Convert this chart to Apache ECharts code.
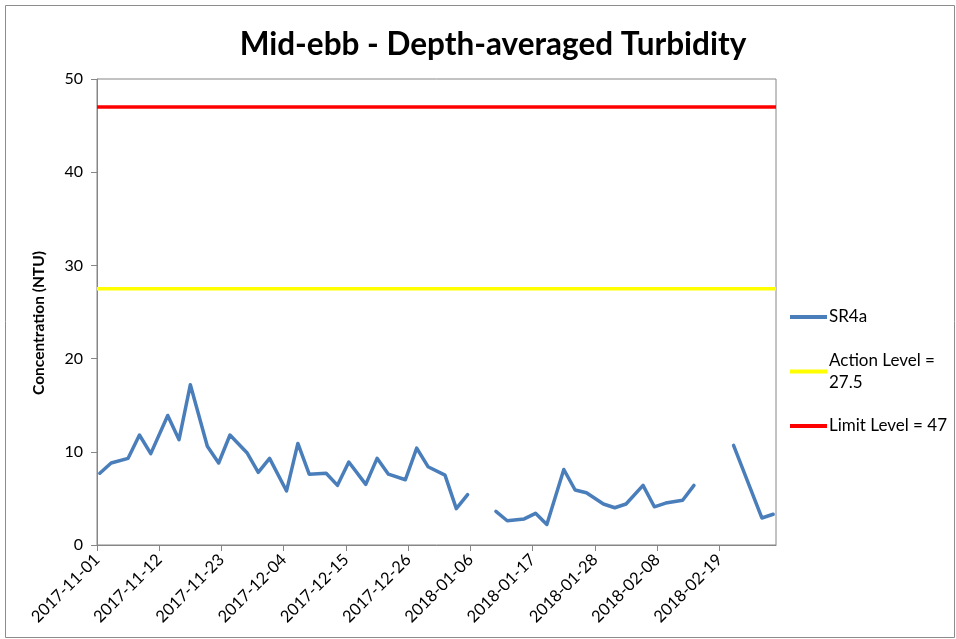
<!DOCTYPE html>
<html>
<head>
<meta charset="utf-8">
<script src="https://cdn.jsdelivr.net/npm/echarts@6/dist/echarts.min.js"></script>
<style>
  html, body { margin: 0; padding: 0; background: #fff; }
  #chart { width: 956px; height: 639px; }
</style>
</head>
<body>
<div id="chart"></div>
<script>
// Sampling dates (mid-ebb surveys) and depth-averaged turbidity, NTU
const sampleDates = [
  '2017-11-01','2017-11-03','2017-11-06','2017-11-08','2017-11-10','2017-11-13','2017-11-15','2017-11-17',
  '2017-11-20','2017-11-22','2017-11-24','2017-11-27','2017-11-29','2017-12-01','2017-12-04','2017-12-06',
  '2017-12-08','2017-12-11','2017-12-13','2017-12-15','2017-12-18','2017-12-20','2017-12-22','2017-12-25',
  '2017-12-27','2017-12-29','2018-01-01','2018-01-03','2018-01-05','2018-01-08','2018-01-10','2018-01-12',
  '2018-01-15','2018-01-17','2018-01-19','2018-01-22','2018-01-24','2018-01-26','2018-01-29','2018-01-31',
  '2018-02-02','2018-02-05','2018-02-07','2018-02-09','2018-02-12','2018-02-14','2018-02-16','2018-02-19',
  '2018-02-21','2018-02-26','2018-02-28'
];
const sr4a = [
  7.7, 8.8, 9.3, 11.8, 9.8, 13.9, 11.3, 17.2,
  10.6, 8.8, 11.8, 9.9, 7.8, 9.3, 5.8, 10.9,
  7.6, 7.7, 6.4, 8.9, 6.5, 9.3, 7.6, 7.0,
  10.4, 8.4, 7.5, 3.9, 5.4, null, 3.6, 2.6,
  2.8, 3.4, 2.2, 8.1, 5.9, 5.6, 4.4, 4.0,
  4.4, 6.4, 4.1, 4.5, 4.8, 6.4, null, null,
  10.7, 2.9, 3.3
];
const actionLevel = 27.5;
const limitLevel = 47;

// Date axis: first and last day shown, tick labels every 11 days
const axisStart = '2017-11-01';
const axisEnd = '2018-03-01';
const xTickLabels = [
  '2017-11-01','2017-11-12','2017-11-23','2017-12-04','2017-12-15','2017-12-26',
  '2018-01-06','2018-01-17','2018-01-28','2018-02-08','2018-02-19'
];
const yTicks = [0, 10, 20, 30, 40, 50];

const DAY = 86400000;
const dayOf = s => (Date.parse(s + 'T00:00:00Z') - Date.parse(axisStart + 'T00:00:00Z')) / DAY;
const xMax = dayOf(axisEnd);
const tickDays = xTickLabels.map(dayOf);
// each value sits in the middle of its day slot
const sr4aData = sampleDates.map((d, i) => [dayOf(d) + 0.5, sr4a[i]]);

const FONT = 'Lato';
const AXIS_COLOR = '#868686';

const chart = echarts.init(document.getElementById('chart'));
chart.setOption({
  animation: false,
  backgroundColor: '#fff',
  textStyle: { fontFamily: FONT },
  title: {
    text: 'Mid-ebb - Depth-averaged Turbidity',
    left: 488, top: 24, textAlign: 'center',
    textStyle: { fontFamily: FONT, fontSize: 31.5, fontWeight: 'bold', color: '#000' }
  },
  graphic: [{
    type: 'rect', left: 3, top: 3, silent: true,
    shape: { width: 949, height: 632 },
    style: { fill: 'none', stroke: '#8c8c8c', lineWidth: 1 }
  }],
  grid: {
    left: 97, top: 79, width: 679, height: 466,
    show: true, borderColor: AXIS_COLOR, borderWidth: 1, backgroundColor: 'transparent'
  },
  legend: {
    orient: 'vertical', left: 790, top: 306, itemGap: 10.5, padding: 0,
    itemWidth: 37, itemHeight: 4, icon: 'rect',
    textStyle: { fontFamily: FONT, fontSize: 17, color: '#000', lineHeight: 22, padding: [0, 0, 0, -3] },
    data: [
      { name: 'SR4a' },
      { name: 'Action Level = 27.5', textStyle: { padding: [22, 0, 0, -3] } },
      { name: 'Limit Level = 47' }
    ],
    formatter: n => n === 'Action Level = 27.5' ? 'Action Level =\n27.5' : n
  },
  xAxis: {
    type: 'value', min: 0, max: xMax, interval: 11,
    axisLine: { show: true, lineStyle: { color: AXIS_COLOR } },
    axisTick: { show: true, length: 6, lineStyle: { color: AXIS_COLOR }, customValues: tickDays },
    splitLine: { show: false },
    axisLabel: {
      rotate: 45, margin: 12, fontFamily: FONT, fontSize: 16.5, color: '#000',
      customValues: tickDays,
      formatter: v => {
        const i = tickDays.indexOf(v);
        return i >= 0 ? xTickLabels[i] : '';
      }
    }
  },
  yAxis: {
    type: 'value', min: yTicks[0], max: yTicks[yTicks.length - 1], interval: 10,
    name: 'Concentration (NTU)', nameLocation: 'middle', nameGap: 50,
    nameTextStyle: { fontFamily: FONT, fontSize: 15.5, fontWeight: 'bold', color: '#000', padding: [0, 22, 0, 0] },
    axisLine: { show: true, lineStyle: { color: AXIS_COLOR } },
    axisTick: { show: true, length: 6, lineStyle: { color: AXIS_COLOR } },
    splitLine: { show: false },
    axisLabel: { margin: 14, fontFamily: FONT, fontSize: 16, color: '#000' }
  },
  series: [
    {
      name: 'SR4a', type: 'line', data: sr4aData, connectNulls: false,
      showSymbol: false, symbol: 'none',
      lineStyle: { color: '#4A7EBB', width: 3.5, join: 'round', cap: 'round' },
      itemStyle: { color: '#4A7EBB' }, z: 3
    },
    {
      name: 'Action Level = 27.5', type: 'line', showSymbol: false, symbol: 'none',
      data: [[0, actionLevel], [xMax, actionLevel]],
      lineStyle: { color: '#FFFF00', width: 3.5 }, itemStyle: { color: '#FFFF00' }
    },
    {
      name: 'Limit Level = 47', type: 'line', showSymbol: false, symbol: 'none',
      data: [[0, limitLevel], [xMax, limitLevel]],
      lineStyle: { color: '#FF0000', width: 3.5 }, itemStyle: { color: '#FF0000' }
    }
  ]
});
</script>
</body>
</html>
